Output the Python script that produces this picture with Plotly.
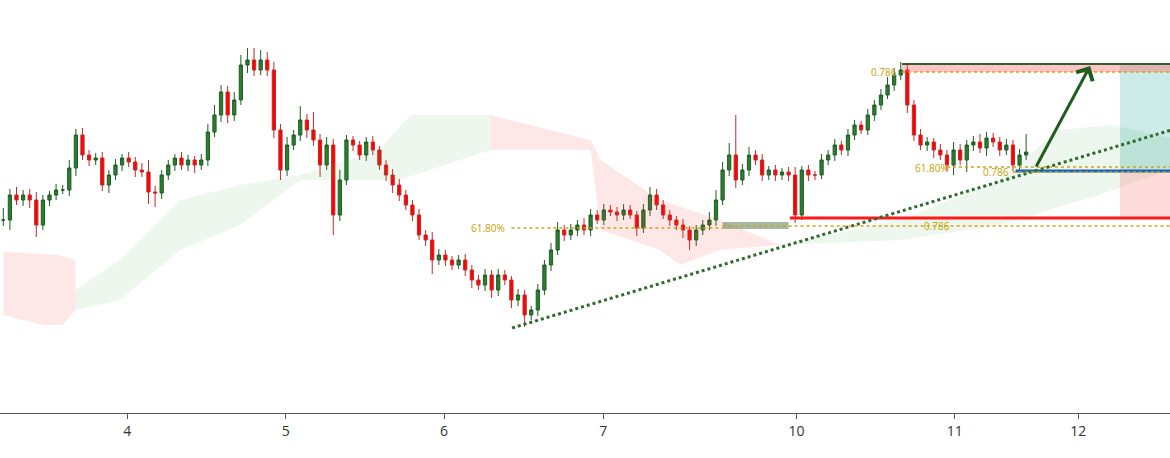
import plotly.graph_objects as go

# candle closes (price units = chart level), one per hourly bar
closes = [180, 205, 200, 205, 200, 175, 200, 205, 210, 210, 232, 265, 245, 240, 242, 215,
          225, 235, 242, 238, 230, 228, 208, 207, 225, 235, 242, 235, 240, 235, 240, 268,
          285, 308, 285, 300, 335, 340, 330, 340, 330, 270, 230, 255, 265, 280, 270, 260,
          235, 255, 185, 220, 260, 255, 245, 258, 250, 235, 225, 215, 205, 195, 185, 165,
          160, 140, 145, 140, 135, 140, 130, 120, 115, 125, 110, 125, 120, 100, 105, 85,
          90, 110, 135, 150, 170, 165, 170, 175, 170, 185, 180, 190, 188, 185, 190, 185,
          172, 190, 205, 195, 185, 180, 175, 170, 160, 170, 175, 180, 200, 230, 245, 220,
          230, 245, 240, 225, 230, 225, 228, 225, 185, 230, 225, 225, 240, 245, 255, 250,
          265, 275, 270, 285, 295, 305, 315, 325, 330, 295, 265, 255, 258, 250, 245, 235,
          250, 240, 255, 258, 252, 262, 258, 250, 255, 235, 245, 248]
wick_up = [12, 6, 8, 5, 6, 8, 5, 4, 6, 5, 8, 6, 7, 5, 5, 6, 5, 6, 4, 6, 5, 7, 12, 6,
           5, 5, 4, 6, 5, 4, 6, 8, 10, 7, 6, 8, 10, 12, 12, 10, 8, 8, 6, 8, 5, 14, 6, 18,
           6, 8, 6, 10, 5, 4, 4, 5, 6, 4, 5, 6, 6, 5, 5, 6, 5, 8, 6, 5, 4, 5, 6, 5, 5, 6,
           5, 6, 5, 4, 6, 5, 4, 6, 5, 7, 8, 5, 6, 5, 7, 6, 5, 6, 5, 5, 6, 5, 4, 6, 8, 6,
           5, 5, 4, 6, 4, 5, 5, 8, 10, 8, 12, 40, 6, 8, 5, 6, 4, 5, 4, 5, 8, 4, 5, 4, 6,
           5, 6, 4, 6, 5, 4, 6, 5, 6, 8, 6, 8, 6, 5, 6, 5, 4, 6, 5, 8, 6, 5, 6, 8, 6, 5,
           5, 6, 5, 6, 18]
wick_dn = [6, 10, 5, 6, 8, 12, 5, 6, 5, 4, 6, 8, 5, 6, 5, 6, 8, 5, 6, 5, 7, 5, 12, 14,
           6, 5, 6, 5, 6, 8, 5, 6, 5, 7, 8, 6, 5, 8, 6, 5, 6, 8, 10, 6, 5, 6, 8, 6, 12,
           5, 20, 6, 5, 6, 5, 6, 5, 5, 6, 8, 6, 5, 6, 5, 6, 14, 5, 6, 5, 4, 6, 8, 5, 6, 8,
           6, 5, 8, 6, 12, 5, 6, 5, 6, 5, 6, 5, 6, 5, 6, 4, 5, 4, 6, 5, 4, 8, 5, 6, 5, 4,
           6, 5, 8, 10, 6, 5, 5, 6, 5, 6, 8, 5, 6, 5, 6, 5, 6, 5, 6, 8, 5, 6, 5, 4, 5, 6,
           5, 6, 5, 4, 5, 6, 5, 4, 6, 5, 8, 6, 5, 6, 8, 5, 6, 10, 5, 12, 6, 5, 8, 5, 6, 5,
           6, 5, 5]
tick_idx = [18.8, 42.8, 66.8, 90.9, 120.2, 144.2, 162.9]
tick_text = ["4", "5", "6", "7", "10", "11", "12"]

# ichimoku cloud outlines (x index, level): upper edge then lower edge reversed
green_cloud_x = [10.9, 17.7, 26.8, 35.9, 45, 57, 61.7, 73.8,
                 73.8, 60, 45, 35.9, 26.8, 17.7, 10.9]
green_cloud_y = [110, 140, 200, 215, 225, 250, 285, 285,
                 250, 220, 220, 175, 150, 100, 90]
red_cloud1_x = [0, 8.3, 10.9, 10.9, 9, 6, 0]
red_cloud1_y = [148, 145, 140, 90, 75, 75, 85]
red_cloud2_x = [73.8, 89, 90.5, 99.5, 108.6, 117.7,
                117.7, 108.6, 102.6, 99.5, 90.5, 89, 73.8]
red_cloud2_y = [285, 260, 240, 200, 180, 155,
                155, 150, 135, 150, 170, 250, 250]
green_cloud2_x = [117.7, 136, 151, 160, 168, 176.8,
                  176.8, 166, 151, 136, 117.7]
green_cloud2_y = [155, 180, 220, 270, 275, 262,
                  230, 205, 175, 160, 155]

opens = [closes[0]] + closes[:-1]
highs = [max(o, c) + w for o, c, w in zip(opens, closes, wick_up)]
lows = [min(o, c) - w for o, c, w in zip(opens, closes, wick_dn)]
xs = list(range(len(closes)))

fig = go.Figure()

def poly(x, y, color):
    fig.add_trace(go.Scatter(x=x, y=y, fill="toself", fillcolor=color, mode="lines",
                             line=dict(width=0), hoverinfo="skip"))

poly(green_cloud_x, green_cloud_y, "rgba(76,175,80,0.10)")
poly(red_cloud1_x, red_cloud1_y, "rgba(244,67,54,0.12)")
poly(red_cloud2_x, red_cloud2_y, "rgba(244,67,54,0.12)")
poly(green_cloud2_x, green_cloud2_y, "rgba(76,175,80,0.10)")

fig.add_trace(go.Candlestick(x=xs, open=opens, high=highs, low=lows, close=closes,
                             increasing=dict(line=dict(color="#1b5e20", width=1), fillcolor="#2e7d32"),
                             decreasing=dict(line=dict(color="#c62828", width=1), fillcolor="#ff0000"),
                             whiskerwidth=0))

shapes = [
    dict(type="rect", x0=169.2, x1=178, y0=230, y1=335, fillcolor="rgba(0,150,136,0.2)", line_width=0),
    dict(type="rect", x0=169.2, x1=178, y0=182, y1=228, fillcolor="rgba(255,82,82,0.2)", line_width=0),
    dict(type="rect", x0=136.2, x1=178, y0=328, y1=336, fillcolor="rgba(255,82,82,0.35)", line_width=0),
    dict(type="rect", x0=109, x1=119, y0=171, y1=178, fillcolor="rgba(90,130,90,0.55)", line_width=0),
    dict(type="line", x0=136.2, x1=178, y0=336, y1=336, line=dict(color="#2e5e2e", width=2)),
    dict(type="line", x0=119.2, x1=178, y0=182, y1=182, line=dict(color="#ff1a1a", width=3)),
    dict(type="line", x0=153.4, x1=178, y0=229, y1=229, line=dict(color="#1565c0", width=3)),
    dict(type="line", x0=77.1, x1=178, y0=72, y1=272, line=dict(color="#2e6b2e", width=3, dash="dot")),
    dict(type="line", x0=77, x1=109, y0=172, y1=172, line=dict(color="#d4a017", width=1.5, dash="dot")),
    dict(type="line", x0=109, x1=178, y0=174, y1=174, line=dict(color="#d4a017", width=1.5, dash="dot")),
    dict(type="line", x0=136.2, x1=178, y0=328, y1=328, line=dict(color="#d4a017", width=1.5, dash="dot")),
    dict(type="line", x0=143, x1=178, y0=233, y1=233, line=dict(color="#d4a017", width=1.5, dash="dot")),
    dict(type="line", x0=153, x1=178, y0=228, y1=228, line=dict(color="#d4a017", width=1.5, dash="dot")),
]
fig.update_layout(shapes=shapes)

labels = [(73.5, 172, "61.80%"), (133.5, 328, "0.786"), (140.7, 232, "61.80%"),
          (150.5, 228, "0.786"), (141.5, 174, "0.786")]
for lx, ly, lt in labels:
    fig.add_annotation(x=lx, y=ly, text=lt, showarrow=False, font=dict(size=10, color="#c8a000"))

fig.add_annotation(x=164.7, y=334, ax=156.4, ay=232, xref="x", yref="y", axref="x", ayref="y",
                   text="", showarrow=True, arrowhead=4, arrowsize=1.2, arrowwidth=3, arrowcolor="#1f5e1f")

fig.update_layout(
    width=1170, height=458,
    margin=dict(l=0, r=0, t=0, b=45),
    paper_bgcolor="white", plot_bgcolor="white",
    showlegend=False,
    font=dict(family="Open Sans", size=14, color="#333"),
    xaxis=dict(range=[-0.5, 176.8], tickvals=tick_idx, ticktext=tick_text, showgrid=False,
               rangeslider=dict(visible=False), showline=True, linecolor="#555", ticks="outside",
               ticklen=5, tickcolor="#555", zeroline=False),
    yaxis=dict(range=[-13, 400], visible=False, showgrid=False),
)

fig.write_html("out.html", config={"displayModeBar": False},
               post_script="document.body.style.margin='0';")
